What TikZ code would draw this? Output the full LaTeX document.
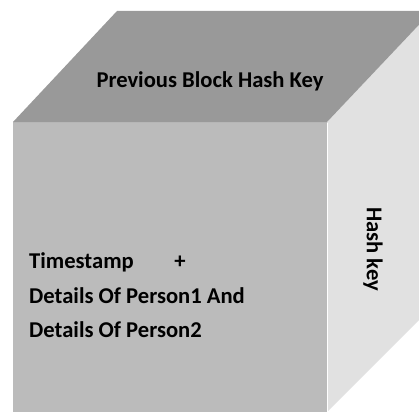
\documentclass[tikz,border=0pt]{standalone}
\usepackage{fontspec}
\setmainfont{Carlito}
\definecolor{topface}{HTML}{999999}
\definecolor{frontface}{HTML}{BBBBBB}
\definecolor{sideface}{HTML}{E1E1E1}
\tikzset{
  label text/.style={font=\bfseries\fontsize{22.6}{27}\selectfont, text=black, inner sep=0pt},
}
\begin{document}
\begin{tikzpicture}[x=1pt,y=-1pt]
  \useasboundingbox (0,0) rectangle (419,412);
  \clip (0,0) rectangle (419,412);
  \fill[white] (0,0) rectangle (419,412);
  % cube faces
  \fill[frontface] (13,122) rectangle (327,412);
  \fill[sideface] (327,122) -- (432,11) -- (432,307) -- (327,412) -- cycle;
  \fill[topface] (13,122) -- (117,11) -- (432,11) -- (327,122) -- cycle;
  \draw[white, line width=1.2pt] (327.6,122.6) -- (327.6,412);
  % labels
  \node[label text, anchor=base] (prev) at (210,87) {Previous Block Hash Key};
  \node[label text, anchor=base west] (ts) at (29,268) {Timestamp};
  \node[label text, anchor=base] (plus) at (180,268) {+};
  \node[label text, anchor=base west] (p1) at (29,303) {Details Of Person1 And};
  \node[label text, anchor=base west] (p2) at (29,337) {Details Of Person2};
  \node[label text, rotate=-90] (hash) at (373,249) {Hash key};
\end{tikzpicture}
\end{document}
